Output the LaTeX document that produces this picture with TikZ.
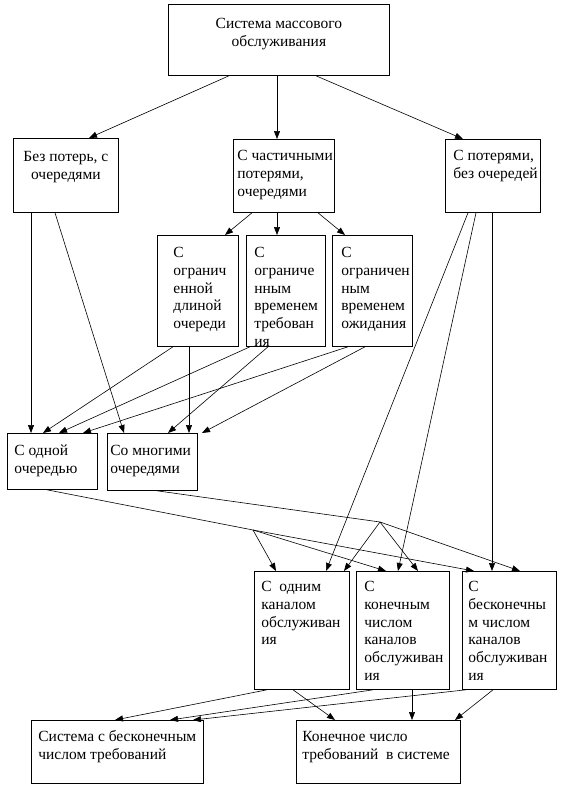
\documentclass[tikz,border=0pt]{standalone}
\usepackage{fontspec}
\setmainfont{Liberation Serif}
\newfontfamily\boxfont{Liberation Serif}
\usetikzlibrary{arrows.meta}

% text of a box: width, height, left pad, top pad, l or c, lines
\newcommand{\cell}[6]{\parbox[t][#2pt][t]{#1pt}{\vspace*{#4pt}\ifx c#5\centering\else\hspace*{#3pt}\fi\begin{tabular}[t]{@{}#5@{}}#6\end{tabular}}}

\begin{document}
\begin{tikzpicture}[x=1pt,y=-1pt,
    box/.style={draw, line width=0.8pt, anchor=north west, inner sep=0pt},
    arr/.style={-{Triangle[length=8pt,width=6pt]}, line width=0.6pt},
    plain/.style={line width=0.6pt},
    every node/.style={font=\boxfont\fontsize{15.5}{17.7}\selectfont}]
        \useasboundingbox (0,0) rectangle (563,792);

        % Draw the boxes
        \node[box] (sys) at (168,4) {\cell{221}{71}{0}{12}{c}{Система массового\\обслуживания}};

        \node[box] (noloss) at (13,138) {\cell{105}{74}{0}{11}{c}{Без потерь, с\\очередями}};
        \node[box] (partial) at (233,139) {\cell{101}{73}{4}{9}{l}{С частичными\\потерями,\\очередями}};
        \node[box] (loss) at (445,139) {\cell{95}{73}{8}{9}{l}{С потерями,\\без очередей}};

        \node[box] (qlen) at (157,235) {\cell{81}{111}{16}{10}{l}{С\\огранич\\енной\\длиной\\очереди}};
        \node[box] (qtime) at (246,235) {\cell{79}{111}{8}{10}{l}{С\\ограниче\\нным\\временем\\требован\\ия}};
        \node[box] (qwait) at (332,235) {\cell{80}{111}{9}{10}{l}{С\\ограничен\\ным\\временем\\ожидания}};

        \node[box] (oneq) at (7,433) {\cell{90}{56}{7}{10}{l}{С одной\\очередью}};
        \node[box] (manyq) at (107,433) {\cell{90}{57}{3}{10}{l}{Со многими\\очередями}};

        \node[box] (onech) at (254,571) {\cell{95}{118}{7}{8}{l}{С\ \ одним\\каналом\\обслуживан\\ия}};
        \node[box] (finch) at (356,571) {\cell{93}{118}{8}{8}{l}{С\\конечным\\числом\\каналов\\обслуживан\\ия}};
        \node[box] (infch) at (462,571) {\cell{94}{118}{6}{8}{l}{С\\бесконечны\\м числом\\каналов\\обслуживан\\ия}};

        \node[box] (infreq) at (31,720) {\cell{172}{63}{7}{9}{l}{Система с бесконечным\\числом требований}};
        \node[box] (finreq) at (296,720) {\cell{164}{63}{6}{9}{l}{Конечное число\\требований\ \ в системе}};

        % Points where the lines split
        \coordinate (j1) at (253,530);
        \coordinate (j2) at (380,522);

        % Arrows from the top box
        \draw[arr] ([xshift=61pt]sys.south west) -- ([xshift=76pt]noloss.north west);
        \draw[arr] ([xshift=109pt]sys.south west) -- ([xshift=44pt]partial.north west);
        \draw[arr] ([xshift=148pt]sys.south west) -- ([xshift=18pt]loss.north west);

        % Partial losses
        \draw[arr] ([xshift=19pt]partial.south west) -- ([xshift=68pt]qlen.north west);
        \draw[arr] ([xshift=44pt]partial.south west) -- ([xshift=31pt]qtime.north west);
        \draw[arr] ([xshift=85pt]partial.south west) -- ([xshift=13pt]qwait.north west);

        % Without losses
        \draw[arr] ([xshift=18pt]noloss.south west) -- ([xshift=24pt]oneq.north west);
        \draw[arr] ([xshift=42pt]noloss.south west) -- ([xshift=17pt]manyq.north west);

        % Limited queues
        \draw[arr] ([xshift=16pt]qlen.south west) -- ([xshift=36pt]oneq.north west);
        \draw[arr] ([xshift=32pt]qlen.south west) -- ([xshift=82pt]manyq.north west);
        \draw[arr] ([xshift=4pt]qtime.south west) -- ([xshift=52pt]oneq.north west);
        \draw[arr] ([xshift=22pt]qtime.south west) -- ([xshift=61pt]manyq.north west);
        \draw[arr] ([xshift=16pt]qwait.south west) -- ([xshift=76pt]oneq.north west);
        \draw[arr] ([xshift=33pt]qwait.south west) -- ([xshift=95pt]manyq.north west);

        % With losses
        \draw[arr] ([xshift=23pt]loss.south west) -- ([xshift=72pt]onech.north west);
        \draw[arr] ([xshift=31pt]loss.south west) -- ([xshift=42pt]finch.north west);
        \draw[arr] ([xshift=47pt]loss.south west) -- ([xshift=30pt]infch.north west);

        % One queue
        \draw[plain] ([xshift=40pt]oneq.south west) -- (j1);
        \draw[arr] (j1) -- ([xshift=22pt]onech.north west);
        \draw[arr] (j1) -- ([xshift=30pt]finch.north west);
        \draw[arr] (j1) -- ([xshift=12pt]infch.north west);

        % Many queues
        \draw[plain] ([xshift=50pt]manyq.south west) -- (j2);
        \draw[arr] (j2) -- ([xshift=90pt]onech.north west);
        \draw[arr] (j2) -- ([xshift=62pt]finch.north west);
        \draw[arr] (j2) -- ([xshift=58pt]infch.north west);

        % Channels
        \draw[arr] ([xshift=13pt]onech.south west) -- ([xshift=84pt]infreq.north west);
        \draw[arr] ([xshift=39pt]onech.south west) -- ([xshift=39pt]finreq.north west);
        \draw[arr] ([xshift=17pt]finch.south west) -- ([xshift=139pt]infreq.north west);
        \draw[arr] ([xshift=56pt]finch.south west) -- ([xshift=116pt]finreq.north west);
        \draw[arr] ([xshift=4pt]infch.south west) -- ([xshift=162pt]infreq.north west);
        \draw[arr] ([xshift=31pt]infch.south west) -- ([xshift=159pt]finreq.north west);
    \end{tikzpicture}
\end{document}
